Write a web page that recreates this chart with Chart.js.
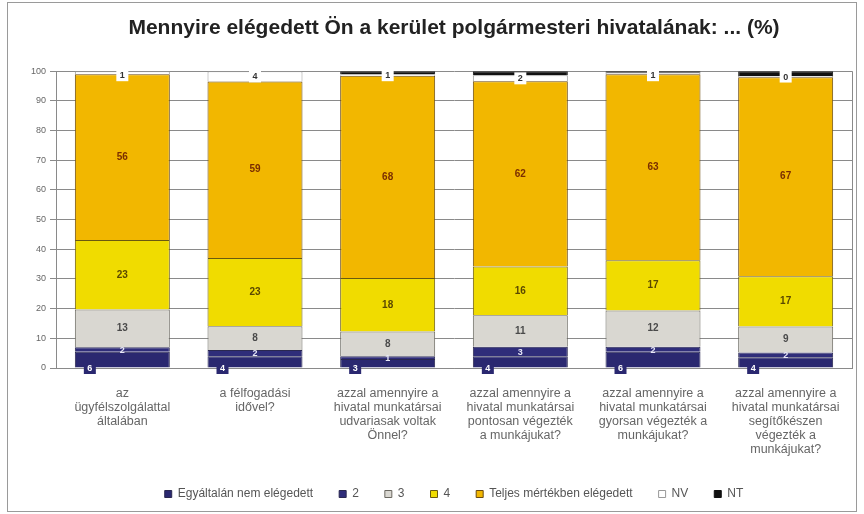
<!DOCTYPE html>
<html>
<head>
<meta charset="utf-8">
<script src="https://cdn.jsdelivr.net/npm/chart.js@4/dist/chart.umd.min.js"></script>
<style>
html,body{margin:0;padding:0;background:#fff;}
#wrap{width:864px;height:514px;position:relative;}
</style>
</head>
<body>
<div id="wrap"><canvas id="c" width="864" height="514"></canvas></div>
<script>
// ---- data ----
const categories = [
  ["az", "ügyfélszolgálattal", "általában"],
  ["a félfogadási", "idővel?"],
  ["azzal amennyire a", "hivatal munkatársai", "udvariasak voltak", "Önnel?"],
  ["azzal amennyire a", "hivatal munkatársai", "pontosan végezték", "a munkájukat?"],
  ["azzal amennyire a", "hivatal munkatársai", "gyorsan végezték a", "munkájukat?"],
  ["azzal amennyire a", "hivatal munkatársai", "segítőkészen", "végezték a", "munkájukat?"]
];
const seriesNames = ["Egyáltalán nem elégedett", "2", "3", "4", "Teljes mértékben elégedett", "NV", "NT"];
const egyaltalanNem = [5.5, 4.0, 3.0, 4.0, 5.5, 3.6];
const ketto = [1.5, 2.1, 1.0, 3.2, 1.7, 1.6];
const harom = [12.7, 8.0, 8.3, 10.6, 12.2, 8.8];
const negy = [23.4, 23.0, 18.0, 16.4, 16.9, 16.9];
const teljes = [55.9, 59.4, 68.2, 62.4, 62.7, 67.1];
const nv = [1.0, 3.5, 0.5, 2.0, 0.5, 0.4];
const nt = [0, 0, 1.0, 1.4, 0.5, 1.6];
const yTicks = [0, 10, 20, 30, 40, 50, 60, 70, 80, 90, 100];

const FONT = "'Liberation Sans', Arial, sans-serif";
const colors = ["#2a2870", "#2f2d7a", "#d9d7d1", "#f0dc00", "#f2b700", "#ffffff", "#111111"];
const borders = ["#2a2850", "#2a2850", "#6a6860", "#6a5a10", "#6a4a10", "#999999", "#111111"];
const allSeries = [egyaltalanNem, ketto, harom, negy, teljes, nv, nt];

const datasets = allSeries.map((arr, i) => ({
  label: seriesNames[i],
  data: arr,
  backgroundColor: colors[i],
  borderColor: borders[i],
  borderWidth: 1,
  barPercentage: 0.716,
  categoryPercentage: 1.0
}));

const framePlugin = {
  id: 'frame',
  beforeDraw(chart) {
    const ctx = chart.ctx;
    ctx.save();
    ctx.fillStyle = '#fff';
    ctx.fillRect(0, 0, chart.width, chart.height);
    ctx.strokeStyle = '#9a9a9a';
    ctx.lineWidth = 1;
    ctx.strokeRect(7.5, 2.5, 849, 509);
    ctx.restore();
  },
  afterDraw(chart) {
    const ctx = chart.ctx, a = chart.chartArea;
    ctx.save();
    ctx.strokeStyle = '#8a8a8a';
    ctx.lineWidth = 1;
    ctx.beginPath();
    ctx.moveTo(Math.round(a.right) + 0.5, a.top);
    ctx.lineTo(Math.round(a.right) + 0.5, a.bottom);
    ctx.stroke();
    ctx.restore();
  }
};

const labelPlugin = {
  id: 'segLabels',
  afterDatasetsDraw(chart) {
    const ctx = chart.ctx, a = chart.chartArea;
    ctx.save();
    ctx.textAlign = 'center';
    ctx.textBaseline = 'middle';
    chart.data.datasets.forEach((ds, di) => {
      if (di === 6) return;
      const meta = chart.getDatasetMeta(di);
      meta.data.forEach((bar, j) => {
        const v = Math.round(ds.data[j]);
        const txt = String(v);
        const left = bar.x - bar.width / 2;
        const cy = (bar.y + bar.base) / 2;
        if (di === 0) {
          const bx = left + 15, by = a.bottom;
          ctx.fillStyle = '#2a2870';
          ctx.fillRect(bx - 6, by - 6, 12, 12);
          ctx.fillStyle = '#ffffff';
          ctx.font = 'bold 9px ' + FONT;
          ctx.fillText(txt, bx, by + 0.5);
        } else if (di === 1) {
          ctx.fillStyle = '#e8e8f8';
          ctx.font = 'bold 9px ' + FONT;
          ctx.fillText(txt, bar.x, cy + 1);
        } else if (di === 5) {
          const y = Math.max(cy, a.top + 4);
          ctx.fillStyle = '#ffffff';
          ctx.fillRect(bar.x - 6, y - 6, 12, 12);
          ctx.fillStyle = '#333';
          ctx.font = 'bold 9px ' + FONT;
          ctx.fillText(txt, bar.x, y + 0.5);
        } else {
          ctx.fillStyle = di === 2 ? '#4a4a4a' : (di === 3 ? '#5a4800' : '#7a2e00');
          ctx.font = 'bold 10px ' + FONT;
          ctx.fillText(txt, bar.x, cy);
        }
      });
    });
    ctx.restore();
  }
};

new Chart(document.getElementById('c'), {
  type: 'bar',
  data: { labels: categories, datasets },
  plugins: [framePlugin, labelPlugin],
  options: {
    responsive: false,
    animation: false,
    devicePixelRatio: 1,
    layout: { padding: { left: 0, right: 12, top: 0, bottom: 4 } },
    plugins: {
      title: {
        display: true,
        text: 'Mennyire elégedett Ön a kerület polgármesteri hivatalának: ... (%)',
        fullSize: false,
        color: '#222',
        font: { family: FONT, size: 21, weight: 'bold' },
        padding: { top: 16, bottom: 30 }
      },
      legend: {
        position: 'bottom',
        fullSize: false,
        labels: {
          boxWidth: 7,
          boxHeight: 7,
          padding: 26,
          color: '#555',
          font: { family: FONT, size: 12 }
        }
      },
      tooltip: { enabled: false }
    },
    scales: {
      x: {
        stacked: true,
        afterFit(scale) { scale.height -= 6; },
        grid: { display: false },
        border: { display: true, color: '#8a8a8a' },
        ticks: {
          color: '#666',
          font: { family: FONT, size: 12.5, lineHeight: '14px' },
          maxRotation: 0,
          autoSkip: false,
          padding: 11
        }
      },
      y: {
        stacked: true,
        min: 0,
        max: 100,
        afterFit(scale) { scale.width = 56; },
        afterBuildTicks(scale) { scale.ticks = yTicks.map(v => ({ value: v })); },
        grid: { color: '#8a8a8a', tickLength: 6, drawTicks: true },
        border: { display: true, color: '#8a8a8a' },
        ticks: {
          color: '#666',
          font: { family: FONT, size: 9 },
          padding: 4
        }
      }
    }
  }
});
</script>
</body>
</html>
